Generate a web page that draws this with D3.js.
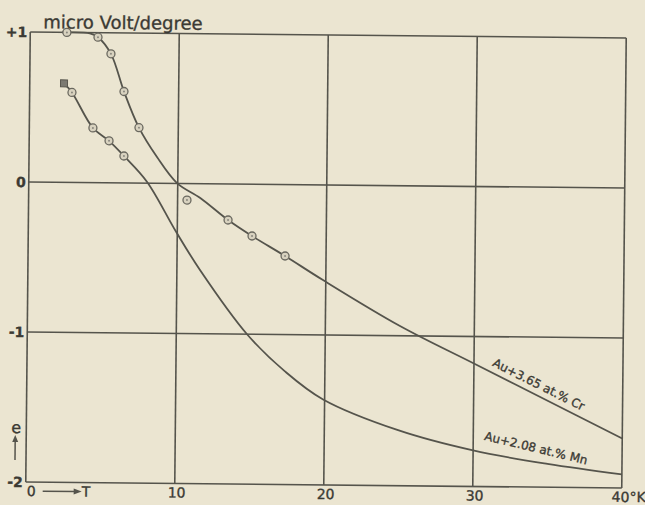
<!DOCTYPE html>
<html>
<head>
<meta charset="utf-8">
<script src="https://cdn.jsdelivr.net/npm/d3@7"></script>
<style>
  body { margin: 0; background: #ebe5d1; }
  svg { display: block; }
  text { font-family: "DejaVu Sans", sans-serif; fill: #3b3a34; stroke: #3b3a34; stroke-width: 0.35; }
</style>
</head>
<body>
<svg width="645" height="505"></svg>
<script>
// values: T in K, e in microvolt/degree
const crPoints = [[2.46, 1.0], [4.55, 0.97], [5.43, 0.86], [6.33, 0.61], [7.36, 0.37],
  [10.63, -0.11], [13.4, -0.24], [15.02, -0.345], [17.25, -0.476]];
const crCurve = [[2.13, 1.0], [2.46, 1.0], [4.0, 0.995], [4.55, 0.97], [5.43, 0.86], [6.33, 0.61],
  [7.36, 0.37], [8.59, 0.175], [9.95, 0.003], [11.52, -0.095], [13.4, -0.24], [15.02, -0.345],
  [17.25, -0.476], [19.81, -0.634], [25.01, -0.935], [29.93, -1.177], [35, -1.425],
  [40, -1.67]];
const mnPoints = [[2.84, 0.6], [4.27, 0.365], [5.36, 0.28], [6.37, 0.18]];
const mnFirst = [[2.3, 0.66]];
const mnCurve = [[2.3, 0.66], [2.84, 0.6], [4.27, 0.365], [5.36, 0.28], [6.37, 0.18],
  [7.93, 0.01], [9.91, -0.32], [11.55, -0.575], [14.75, -1.0], [17.32, -1.245], [19.9, -1.43],
  [24.95, -1.63], [30, -1.76], [35, -1.845], [40, -1.91]];
const xTicks = [10, 20, 30];
const yTicks = [["+1", 1], ["0", 0], ["-1", -1], ["-2", -2]];

const svg = d3.select("svg");
// the scanned sheet is turned a little clockwise
const g = svg.append("g").attr("transform", "rotate(0.57,326,260)");
const x = d3.scaleLinear().domain([0, 40]).range([28, 624]);
const y = d3.scaleLinear().domain([-2, 1]).range([485, 35]);
const ink = "#55544c";

// frame and grid
const grid = g.append("g").attr("stroke", ink).attr("stroke-width", 1.6);
[0, 10, 20, 30, 40].forEach(t => grid.append("line")
  .attr("x1", x(t)).attr("x2", x(t)).attr("y1", y(1)).attr("y2", y(-2)));
[1, 0, -1, -2].forEach(v => grid.append("line")
  .attr("x1", x(0)).attr("x2", x(40)).attr("y1", y(v)).attr("y2", y(v)));

const line = d3.line().x(d => x(d[0])).y(d => y(d[1])).curve(d3.curveCatmullRom.alpha(0.5));
g.append("path").attr("d", line(crCurve)).attr("fill", "none").attr("stroke", ink).attr("stroke-width", 1.8);
g.append("path").attr("d", line(mnCurve)).attr("fill", "none").attr("stroke", ink).attr("stroke-width", 1.8);

// markers
const marks = g.append("g");
marks.selectAll(".pt")
  .data(crPoints.concat(mnPoints))
  .join("circle")
  .attr("cx", d => x(d[0])).attr("cy", d => y(d[1])).attr("r", 4)
  .attr("fill", "#d8d2bf").attr("stroke", "#6a685f").attr("stroke-width", 1.3);
marks.selectAll(".dot")
  .data(crPoints.concat(mnPoints))
  .join("circle")
  .attr("cx", d => x(d[0])).attr("cy", d => y(d[1])).attr("r", 1)
  .attr("fill", "#8a887f");
marks.selectAll("rect")
  .data(mnFirst)
  .join("rect")
  .attr("x", d => x(d[0]) - 3.5).attr("y", d => y(d[1]) - 3.5)
  .attr("width", 7).attr("height", 7)
  .attr("fill", "#7c7a72").attr("stroke", "#5a5850");

// axis labels
g.append("text").attr("x", 41).attr("y", 31).style("font-size", "18px").text("micro Volt/degree");
g.selectAll(".yl")
  .data(yTicks)
  .join("text")
  .attr("x", 25).attr("y", d => y(d[1]) + 5)
  .attr("text-anchor", "end").style("font-size", "14px").style("font-weight", "bold")
  .text(d => d[0]);
g.selectAll(".xl")
  .data(xTicks)
  .join("text")
  .attr("x", d => x(d) + 2).attr("y", 499)
  .attr("text-anchor", "middle").style("font-size", "14px")
  .text(d => d);
g.append("text").attr("x", x(40) - 10).attr("y", 499).style("font-size", "14px").text("40°K");
g.append("text").attr("x", 29).attr("y", 499).style("font-size", "14px").text("0");
g.append("line").attr("x1", 45).attr("x2", 78).attr("y1", 494).attr("y2", 494)
  .attr("stroke", ink).attr("stroke-width", 1.5);
g.append("path").attr("d", "M76,491 L84,494 L76,497 Z").attr("fill", ink);
g.append("text").attr("x", 84).attr("y", 499).style("font-size", "14px").text("T");
g.append("text").attr("x", 13).attr("y", 436).style("font-size", "16px").text("e");
g.append("line").attr("x1", 17).attr("x2", 17).attr("y1", 463).attr("y2", 443)
  .attr("stroke", ink).attr("stroke-width", 1.5);
g.append("path").attr("d", "M14,445 L17,438 L20,445 Z").attr("fill", ink);

// curve labels
g.append("text")
  .attr("transform", "translate(538,386) rotate(26)")
  .attr("text-anchor", "middle").style("font-size", "12px")
  .text("Au+3.65 at.% Cr");
g.append("text")
  .attr("transform", "translate(537,450) rotate(13)")
  .attr("text-anchor", "middle").style("font-size", "12px")
  .text("Au+2.08 at.% Mn");
</script>
</body>
</html>
